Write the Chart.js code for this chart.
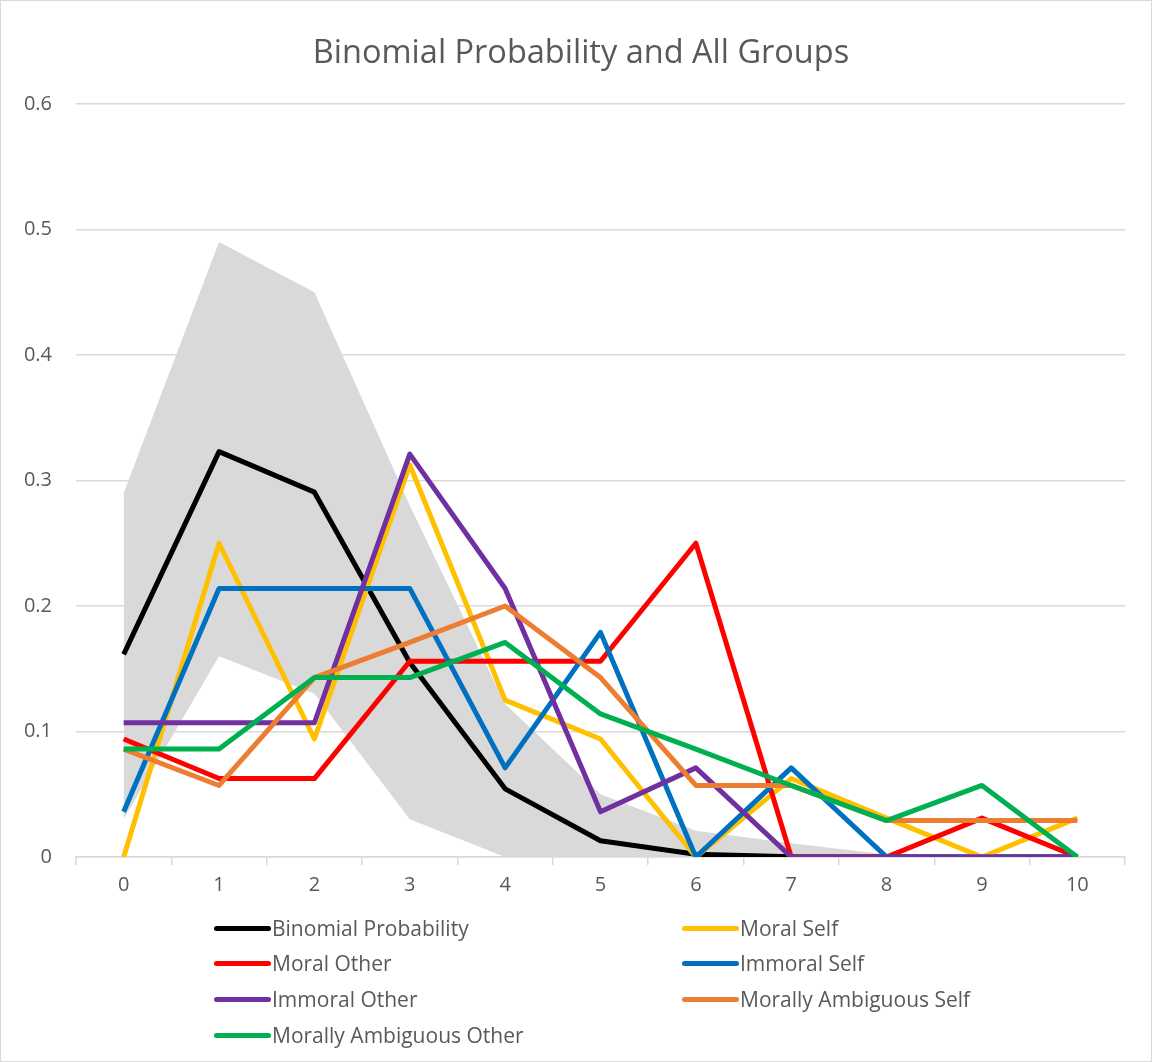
<!DOCTYPE html>
<html>
<head>
<meta charset="utf-8">
<script src="https://cdn.jsdelivr.net/npm/chart.js@4.4.1/dist/chart.umd.min.js"></script>
<style>
  html, body { margin: 0; padding: 0; background: #ffffff; }
  #wrap { position: relative; width: 1152px; height: 1062px; box-sizing: border-box; border: 1px solid #d9d9d9; }
  #chart { position: absolute; left: 0; top: 0; }
  #title { position: absolute; left: 0; width: 1160px; top: 28px; text-align: center; white-space: nowrap;
           font-family: "Open Sans", Lato, sans-serif; font-size: 32.5px; line-height: 44px; color: #595959; }
  #legend { position: absolute; left: 0; top: 0; width: 1152px; height: 1062px; pointer-events: none;
            font-family: "Open Sans", Lato, sans-serif; font-size: 21px; color: #595959; }
  .item { position: absolute; display: flex; align-items: center; height: 30px; white-space: nowrap; }
  .swatch { width: 57px; height: 5px; border-radius: 3px; margin-right: 1px; }
</style>
</head>
<body>
<div id="wrap">
  <canvas id="chart" width="1152" height="1062"></canvas>
  <div id="title">Binomial Probability and All Groups</div>
  <div id="legend"></div>
</div>
<script>
// Number of successes (x axis categories)
const categories = ['0', '1', '2', '3', '4', '5', '6', '7', '8', '9', '10'];

// Binomial probability, n = 10, p = 1/6
const binomial = [0.1615, 0.3230, 0.2907, 0.1550, 0.0543, 0.0130, 0.0022, 0.0002, 0.0000, 0.0000, 0.0000];

// Group proportions
const moralSelf = [0.000, 0.250, 0.094, 0.3125, 0.125, 0.094, 0.000, 0.0625, 0.031, 0.000, 0.031];
const moralOther = [0.094, 0.0625, 0.0625, 0.156, 0.156, 0.156, 0.250, 0.000, 0.000, 0.031, 0.000];
const immoralSelf = [0.036, 0.214, 0.214, 0.214, 0.071, 0.179, 0.000, 0.071, 0.000, 0.000, 0.000];
const immoralOther = [0.107, 0.107, 0.107, 0.321, 0.214, 0.036, 0.071, 0.000, 0.000, 0.000, 0.000];
const ambiguousSelf = [0.086, 0.057, 0.143, 0.171, 0.200, 0.143, 0.057, 0.057, 0.029, 0.029, 0.029];
const ambiguousOther = [0.086, 0.086, 0.143, 0.143, 0.171, 0.114, 0.086, 0.057, 0.029, 0.057, 0.000];

// Shaded range around the binomial curve
const bandUpper = [0.290, 0.490, 0.450, 0.280, 0.122, 0.050, 0.021, 0.011, 0.002, 0.000, 0.000];
const bandLower = [0.030, 0.160, 0.130, 0.030, 0.000, 0.000, 0.000, 0.000, 0.000, 0.000, 0.000];

// Y axis tick values
const yTicks = [0, 0.1, 0.2, 0.3, 0.4, 0.5, 0.6];

const series = [
  { label: 'Binomial Probability', data: binomial, color: '#000000' },
  { label: 'Moral Self', data: moralSelf, color: '#FFC000' },
  { label: 'Moral Other', data: moralOther, color: '#FF0000' },
  { label: 'Immoral Self', data: immoralSelf, color: '#0070C0' },
  { label: 'Immoral Other', data: immoralOther, color: '#7030A0' },
  { label: 'Morally Ambiguous Self', data: ambiguousSelf, color: '#ED7D31' },
  { label: 'Morally Ambiguous Other', data: ambiguousOther, color: '#00B050' }
];

const FONT = '"Open Sans", Lato, sans-serif';
const GREY_TEXT = '#595959';
const GRID = '#d9d9d9';

const lineSets = series.map((s, i) => ({
  label: s.label,
  data: s.data,
  borderColor: s.color,
  backgroundColor: s.color,
  borderWidth: 5,
  pointRadius: 0,
  fill: false,
  tension: 0,
  borderJoinStyle: 'round',
  order: series.length - i   // later series drawn on top
}));

const bandSets = [
  { label: 'upper', data: bandUpper, borderWidth: 0, pointRadius: 0, fill: '+1',
    backgroundColor: '#d9d9d9', borderColor: 'rgba(0,0,0,0)', order: 100 },
  { label: 'lower', data: bandLower, borderWidth: 0, pointRadius: 0, fill: false,
    backgroundColor: 'rgba(0,0,0,0)', borderColor: 'rgba(0,0,0,0)', order: 101 }
];

const chart = new Chart(document.getElementById('chart'), {
  type: 'line',
  data: { labels: categories, datasets: lineSets.concat(bandSets) },
  options: {
    responsive: false,
    animation: false,
    layout: { padding: { left: 0, right: 28, top: 103, bottom: 158 } },
    plugins: {
      legend: { display: false },
      tooltip: { enabled: false },
      title: { display: false }
    },
    scales: {
      x: {
        offset: true,
        grid: { offset: true, drawOnChartArea: false, drawTicks: true, tickLength: 8, color: GRID, lineWidth: 1.5 },
        border: { display: true, color: GRID, width: 1.5 },
        ticks: { color: GREY_TEXT, font: { family: FONT, size: 20 }, padding: 8 }
      },
      y: {
        min: 0,
        max: 0.6,
        afterFit: (scale) => { scale.width = 75; },
        afterBuildTicks: (scale) => { scale.ticks = yTicks.map(v => ({ value: v })); },
        grid: { color: GRID, lineWidth: 1.5, drawTicks: false },
        border: { display: false },
        ticks: {
          color: GREY_TEXT,
          font: { family: FONT, size: 20 },
          padding: 24,
          callback: (v) => String(Math.round(v * 10) / 10)
        }
      }
    }
  }
});

// Two-column legend below the plot
const legend = document.getElementById('legend');
const colX = [213, 681];
const rowY = [927, 962, 998, 1034];
series.forEach((s, i) => {
  const item = document.createElement('div');
  item.className = 'item';
  item.style.left = colX[i % 2] + 'px';
  item.style.top = (rowY[Math.floor(i / 2)] - 15) + 'px';
  const sw = document.createElement('span');
  sw.className = 'swatch';
  sw.style.background = s.color;
  const tx = document.createElement('span');
  tx.textContent = s.label;
  item.appendChild(sw);
  item.appendChild(tx);
  legend.appendChild(item);
});
</script>
</body>
</html>
